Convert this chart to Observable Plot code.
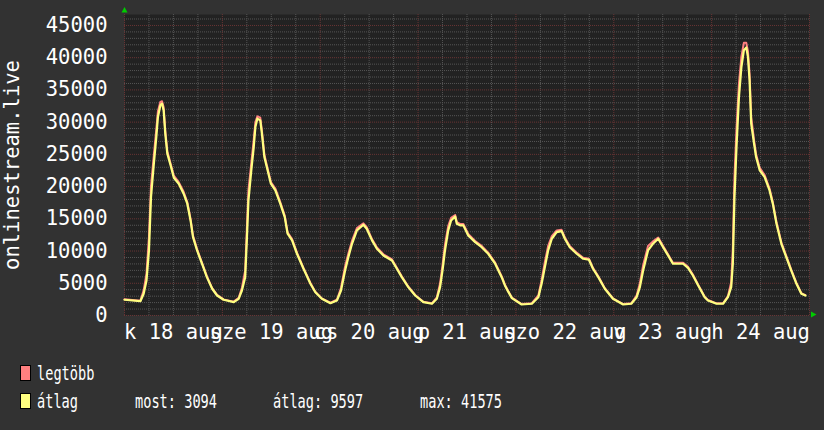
<!DOCTYPE html>
<html><head><meta charset="utf-8">
<script src="https://cdn.jsdelivr.net/npm/d3@7"></script>
<script src="https://cdn.jsdelivr.net/npm/@observablehq/plot@0.6"></script>
<style>
html,body{margin:0;padding:0;background:#323232;}
body{width:824px;height:430px;overflow:hidden;font-family:"DejaVu Sans Mono",monospace;}
svg{display:block;}
</style></head><body><div id="chart"></div><div id="legend"></div>
<script>
// hours since 2015-08-18 00:00
const hours = [
  0, 3.9, 4.7, 5.4, 6.0, 6.5, 7.2, 7.8, 8.2, 8.8, 9.2, 9.6, 10.0, 10.5, 11.3, 12.1, 13.3, 14.5, 15.4, 16.2, 16.8, 17.8, 19.0, 20.2, 21.5, 22.7,
  24.3, 26.8, 28.0, 28.8, 29.6, 30.0, 30.4, 31.1, 31.7, 32.1, 32.6, 33.3, 33.7, 34.3, 34.9, 35.9, 37.0, 38.2, 39.3, 40.0, 41.1, 42.3, 43.9, 45.6, 46.8,
  48.4, 50.5, 52.1, 53.1, 54.1, 54.9, 55.8, 57.0, 58.6, 59.4, 60.7, 61.9, 63.5, 65.6, 66.8, 68.0, 69.6, 71.3,
  73.3, 75.4, 76.6, 77.4, 78.0, 78.6, 79.4, 80.1, 81.1, 81.5, 82.3, 83.1, 84.3, 86.0, 87.6, 89.2, 90.9, 92.5, 93.3, 94.1, 95.0,
  97.4, 99.9, 101.5, 102.3, 103.1, 103.9, 104.8, 106.0, 107.2, 108.0, 109.2, 110.9, 112.5, 113.9, 114.9, 116.2, 117.8, 119.8,
  122.3, 124.3, 125.6, 126.4, 127.2, 128.4, 129.6, 130.9, 132.1, 133.3, 134.5, 137.0, 138.2, 139.4, 140.7, 142.3, 143.1, 145.2, 146.8,
  148.0, 148.8, 149.2, 149.6, 150.1, 150.7, 151.3, 151.9, 152.5, 152.9, 153.3, 153.7, 154.4, 154.9, 155.8, 157.0, 158.2, 159.0, 159.9, 161.1, 162.3, 163.5, 164.8, 166.0, 167.0
];
const avgUsers = [
  2440, 2220, 3370, 5440, 10100, 18370, 23560, 27690, 30800, 32610, 32880, 31840, 28220, 25110, 23300, 21380, 20450, 18900, 17350, 14750, 12160, 10090, 8030, 5950, 4150, 3100,
  2440, 2070, 2590, 3880, 5950, 11650, 17860, 22520, 26140, 29240, 30550, 30280, 28220, 24590, 23030, 20450, 19410, 17350, 15270, 12690, 11650, 9580, 7250, 4920, 3600,
  2590, 1910, 2330, 3880, 6990, 9050, 11130, 13200, 14080, 13460, 11650, 10360, 9320, 8540, 7250, 5950, 4400, 3100,
  2070, 1820, 2590, 4400, 6990, 10090, 13200, 14750, 15370, 14240, 13980, 13980, 12420, 11380, 10600, 9580, 8030, 5950, 4660, 3700, 2700,
  1710, 1820, 2840, 4920, 7500, 10090, 11910, 12940, 13100, 11910, 10600, 9580, 8800, 8650, 7250, 5950, 4150, 2590,
  1710, 1820, 2840, 4400, 6990, 10090, 11130, 11910, 10600, 9320, 8030, 8030, 7400, 6210, 4660, 2840, 2330, 1820, 1820,
  2840, 4400, 8030, 18370, 26140, 33900, 38560, 41150, 41575, 40120, 36500, 29770, 26660, 24590, 22520, 21480, 19410, 17350, 14240, 11130, 9050, 6990, 4920, 3370, 3094
];
const maxUsers = [
  2520, 2300, 3900, 6500, 12200, 20100, 24900, 28900, 31700, 33150, 33250, 32300, 28700, 25500, 23600, 21700, 20700, 19200, 17600, 15000, 12400, 10300, 8200, 6100, 4250, 3200,
  2500, 2150, 2750, 4300, 7000, 13300, 19400, 23700, 27300, 30000, 30900, 30700, 28700, 25000, 23300, 20700, 19700, 17600, 15500, 12900, 11850, 9750, 7400, 5050, 3700,
  2650, 1980, 2450, 4300, 7600, 9600, 11600, 13550, 14300, 13700, 11850, 10550, 9500, 8700, 7400, 6100, 4500, 3180,
  2130, 1890, 2800, 5000, 7800, 11000, 13900, 15150, 15600, 14500, 14200, 14200, 12650, 11550, 10800, 9750, 8200, 6100, 4780, 3800, 2780,
  1780, 1900, 3100, 5500, 8300, 10800, 12300, 13200, 13300, 12100, 10800, 9750, 8950, 8800, 7400, 6100, 4250, 2660,
  1780, 1900, 3100, 5000, 7800, 10800, 11500, 12100, 10800, 9500, 8200, 8200, 7550, 6350, 4780, 2920, 2400, 1890, 1900,
  3000, 5200, 10500, 21500, 29000, 36000, 40200, 42300, 42300, 41000, 37500, 30800, 27200, 25000, 22900, 21800, 19700, 17600, 14500, 11350, 9250, 7150, 5050, 3450, 3160
];
const yTicks = [0, 5000, 10000, 15000, 20000, 25000, 30000, 35000, 40000, 45000];
const dayLabels = ["k 18 aug", "sze 19 aug", "cs 20 aug", "p 21 aug", "szo 22 aug", "v 23 aug", "h 24 aug"];
const dayLabelHours = [12, 36, 60, 84, 108, 132, 156];
const seriesNames = ["legtöbb", "átlag"];
const seriesColors = ["#ff8080", "#ffff80"];
const legendStats = ["most: 3094", "átlag: 9597", "max: 41575"];
const yAxisTitle = "onlinestream.live";

const data = hours.map((h, i) => ({h, avg: avgUsers[i], max: maxUsers[i]}));
const minorY = d3.range(0, 47000, 1000).filter(v => v % 5000 !== 0);
const majorY = d3.range(0, 47000, 5000);
const minorX = d3.range(0, 169, 6).filter(v => v % 24 !== 0);
const majorX = d3.range(0, 169, 24);
const font = "'DejaVu Sans Mono', monospace";

const chart = Plot.plot({
  width: 824, height: 350,
  marginTop: 14, marginBottom: 35, marginLeft: 124, marginRight: 15,
  style: {background: "#323232", color: "#ffffff", fontFamily: font, fontSize: "20.5px"},
  x: {domain: [0, 168], axis: null, label: null},
  y: {domain: [0, 46700], axis: null, label: null},
  marks: [
    Plot.frame({fill: "#222222", stroke: null}),
    Plot.gridY(minorY, {stroke: "#555555", strokeOpacity: 1, strokeDasharray: "1,1"}),
    Plot.gridX(minorX, {stroke: "#555555", strokeOpacity: 1, strokeDasharray: "1,1"}),
    Plot.gridY(majorY, {stroke: "#683434", strokeOpacity: 1, strokeDasharray: "1,1"}),
    Plot.gridX(majorX, {stroke: "#683434", strokeOpacity: 1, strokeDasharray: "1,1"}),
    Plot.line(data, {x: "h", y: "max", stroke: seriesColors[0], strokeWidth: 2}),
    Plot.line(data, {x: "h", y: "avg", stroke: seriesColors[1], strokeWidth: 2.2}),
    Plot.axisY(yTicks, {tickSize: 0, tickPadding: 17, tickFormat: d => String(d), fontSize: 20.5, fill: "#ffffff", label: null}),
    Plot.axisX(dayLabelHours, {tickSize: 0, tickPadding: 9, tickFormat: d => dayLabels[dayLabelHours.indexOf(d)], fontSize: 20.5, fill: "#ffffff", label: null}),
    Plot.text([yAxisTitle], {frameAnchor: "left", textAnchor: "middle", lineAnchor: "middle", rotate: -90, dx: -112, fontSize: 20.5, fill: "#ffffff", fontFamily: font})
  ]
});
document.getElementById("chart").appendChild(chart);

// green axis arrows, placed through the scales
const xs = chart.scale("x"), ys = chart.scale("y");
const x0 = xs.apply(0), x1 = xs.apply(168), y0 = ys.apply(0), yTop = ys.apply(46700);
const svg = d3.select(chart);
svg.append("path").attr("d", `M${x0 + 0.5},${yTop - 7} L${x0 + 3.5},${yTop - 1.5} L${x0 - 2.5},${yTop - 1.5} Z`).attr("fill", "#00cc00");
svg.append("path").attr("d", `M${x1 + 7.5},${y0 - 0.5} L${x1 + 2},${y0 - 3.5} L${x1 + 2},${y0 + 2.5} Z`).attr("fill", "#00cc00");

// legend
const leg = d3.select("#legend").append("svg").attr("width", 824).attr("height", 80)
  .style("font-family", font).style("font-size", "20px");
const charW = 8.2;
const rows = [{y: 15, name: seriesNames[0], color: seriesColors[0]}, {y: 43, name: seriesNames[1], color: seriesColors[1]}];
rows.forEach(r => {
  leg.append("rect").attr("x", 20.5).attr("y", r.y + 0.5).attr("width", 10).attr("height", 15).attr("fill", r.color).attr("stroke", "#000");
  leg.append("text").attr("x", 37).attr("y", r.y + 15).attr("fill", "#fff").attr("font-size", 20)
    .attr("textLength", r.name.length * charW).attr("lengthAdjust", "spacingAndGlyphs").text(r.name);
});
const statX = [135, 273, 420];
legendStats.forEach((s, i) => {
  leg.append("text").attr("x", statX[i]).attr("y", 58).attr("fill", "#fff").attr("font-size", 20)
    .attr("textLength", s.length * charW).attr("lengthAdjust", "spacingAndGlyphs").text(s);
});
</script></body></html>
